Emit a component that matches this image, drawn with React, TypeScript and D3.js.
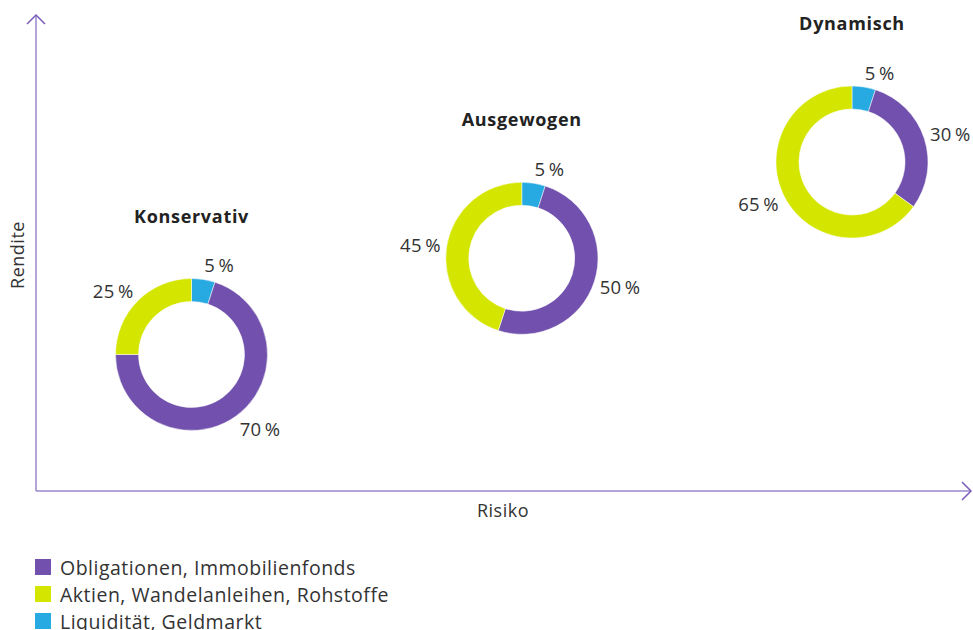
import React, { useRef, useEffect } from 'react'
import * as d3 from 'd3'

// Anlageprofile (Risiko / Rendite steigen von links nach rechts)
const profiles = ['Konservativ', 'Ausgewogen', 'Dynamisch']
const riskLevel = [1, 2, 3]
const returnLevel = [1, 2, 3]

// Anteile je Profil, in Reihenfolge der Ringsegmente (im Uhrzeigersinn ab 12 Uhr)
const liquiditaet = [5, 5, 5]
const obligationen = [70, 50, 30]
const aktien = [25, 45, 65]

const segmentNames = ['Liquidität, Geldmarkt', 'Obligationen, Immobilienfonds', 'Aktien, Wandelanleihen, Rohstoffe']
const segmentColors = ['#27aae1', '#7151ad', '#d4e500']

const legendOrder = ['Obligationen, Immobilienfonds', 'Aktien, Wandelanleihen, Rohstoffe', 'Liquidität, Geldmarkt']

const xLabel = 'Risiko'
const yLabel = 'Rendite'

const W = 973
const H = 630
const FONT = "'Open Sans', Lato, sans-serif"

const App = () => {
    const chartRef = useRef<SVGSVGElement | null>(null)

    useEffect(() => {
        if (!chartRef.current) return
        const svg = d3.select(chartRef.current)
        svg.selectAll('*').remove()

        const axisColor = '#9a86cc'
        const arrowColor = '#7a5db8'
        const textColor = '#333333'

        const originX = 36
        const originY = 491
        const topY = 15
        const rightX = 971

        // Achsen
        svg.append('line')
            .attr('x1', originX).attr('y1', originY)
            .attr('x2', originX).attr('y2', topY)
            .attr('stroke', axisColor).attr('stroke-width', 1.5)
        svg.append('line')
            .attr('x1', originX).attr('y1', originY)
            .attr('x2', rightX).attr('y2', originY)
            .attr('stroke', axisColor).attr('stroke-width', 1.5)
        svg.append('path')
            .attr('d', `M${originX - 9},${topY + 9} L${originX},${topY} L${originX + 9},${topY + 9}`)
            .attr('fill', 'none').attr('stroke', arrowColor).attr('stroke-width', 1.5)
        svg.append('path')
            .attr('d', `M${rightX - 9},${originY - 9} L${rightX},${originY} L${rightX - 9},${originY + 9}`)
            .attr('fill', 'none').attr('stroke', arrowColor).attr('stroke-width', 1.5)

        svg.append('text')
            .attr('x', 503).attr('y', 510)
            .attr('text-anchor', 'middle').attr('dominant-baseline', 'central')
            .attr('font-family', FONT).attr('font-size', 18).attr('letter-spacing', 0.5)
            .attr('fill', textColor)
            .text(xLabel)
        svg.append('text')
            .attr('transform', 'translate(17, 255) rotate(-90)')
            .attr('text-anchor', 'middle').attr('dominant-baseline', 'central')
            .attr('font-family', FONT).attr('font-size', 18).attr('letter-spacing', 0.5)
            .attr('fill', textColor)
            .text(yLabel)

        // Positionen
        const x = d3.scaleLinear().domain([1, 3]).range([191.5, 852])
        const y = d3.scaleLinear().domain([1, 3]).range([354.5, 162])

        const outerR = 76
        const innerR = 53
        const labelR = 82
        const halfTextH = 9

        const pie = d3.pie<number>().sort(null).value(d => d)
        const arc = d3.arc<d3.PieArcDatum<number>>().innerRadius(innerR).outerRadius(outerR)
        const labelArc = d3.arc<d3.PieArcDatum<number>>().innerRadius(labelR).outerRadius(labelR)
        const midAngle = (d: d3.PieArcDatum<number>) => (d.startAngle + d.endAngle) / 2

        profiles.forEach((name, i) => {
            const values = [liquiditaet[i], obligationen[i], aktien[i]]
            const g = svg.append('g')
                .attr('transform', `translate(${x(riskLevel[i])}, ${y(returnLevel[i])})`)

            const arcs = pie(values)
            g.selectAll('path.seg')
                .data(arcs)
                .enter()
                .append('path')
                .attr('class', 'seg')
                .attr('d', arc)
                .attr('fill', (d, j) => segmentColors[j])
                .attr('stroke', '#ffffff')
                .attr('stroke-width', 0.5)

            // Beschriftung ausserhalb des Rings, Textbox vom Ring weggeschoben
            g.selectAll('text.lbl')
                .data(arcs)
                .enter()
                .append('text')
                .attr('class', 'lbl')
                .attr('transform', d => {
                    const [cx, cy] = labelArc.centroid(d)
                    const dy = -Math.cos(midAngle(d)) * halfTextH
                    return `translate(${cx}, ${cy + dy})`
                })
                .attr('text-anchor', d => (midAngle(d) < Math.PI ? 'start' : 'end'))
                .attr('dominant-baseline', 'central')
                .attr('font-family', FONT).attr('font-size', 18.5).attr('letter-spacing', 0.3)
                .attr('fill', textColor)
                .text(d => `${d.data}\u2009%`)

            g.append('text')
                .attr('x', 0).attr('y', -139)
                .attr('text-anchor', 'middle').attr('dominant-baseline', 'central')
                .attr('font-family', FONT).attr('font-size', 18).attr('font-weight', 'bold')
                .attr('letter-spacing', 0.7)
                .attr('fill', '#222222')
                .text(name)
        })

        // Legende
        const legend = svg.append('g').attr('transform', 'translate(35, 567)')
        legendOrder.forEach((name, i) => {
            const color = segmentColors[segmentNames.indexOf(name)]
            const row = legend.append('g').attr('transform', `translate(0, ${i * 27})`)
            row.append('rect')
                .attr('x', 0).attr('y', -8)
                .attr('width', 16).attr('height', 16)
                .attr('fill', color)
            row.append('text')
                .attr('x', 25).attr('y', 0)
                .attr('dominant-baseline', 'central')
                .attr('font-family', FONT).attr('font-size', 19.5).attr('letter-spacing', 0.5)
                .attr('fill', textColor)
                .text(name)
        })
    }, [])

    return (
        <svg ref={chartRef} width={W} height={H}
            style={{ position: 'absolute', left: 0, top: 0, background: '#ffffff' }} />
    )
}

export default App
